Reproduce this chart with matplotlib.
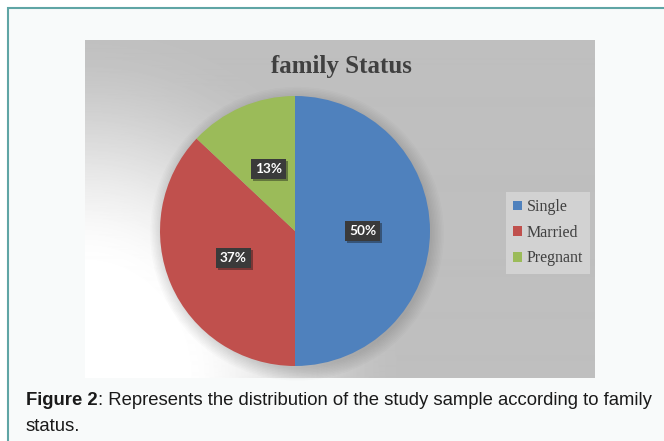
import numpy as np
import matplotlib
matplotlib.use("Agg")
import matplotlib.pyplot as plt
from matplotlib.patches import Rectangle, Circle
import matplotlib.patheffects as pe

# data
categories = ["Single", "Married", "Pregnant"]
shares = [50, 37, 13]
colors = ["#4f81bd", "#c0504d", "#9bbb59"]
chart_title = "family Status"
caption_bold = "Figure 2"
caption_rest = ": Represents the distribution of the study sample according to family"
caption_line2 = "status."

W, H = 664, 441


def fx(x):
    return x / W


def fy(y):
    return 1 - y / H


fig = plt.figure(figsize=(W / 100, H / 100), dpi=100, facecolor="white")

# page panel with teal border on left / top
fig.patches.append(Rectangle((fx(8), fy(500)), fx(700), (500 - 8) / H,
                             transform=fig.transFigure, facecolor="#f8fafa",
                             edgecolor="#5fa5a5", linewidth=1.5, zorder=-10))

# grey chart area with light corner at bottom-left
x0, y0, x1, y1 = 85, 40, 595, 378
bg = fig.add_axes([fx(x0), fy(y1), (x1 - x0) / W, (y1 - y0) / H])
xx, yy = np.meshgrid(np.arange(x1 - x0), np.arange(y1 - y0))
d = np.hypot(xx - 0, (yy - (y1 - y0)) * 0.9)
t = np.clip((d - 90) / 230, 0, 1)
t = t * t * (3 - 2 * t)
grey = 255 - (255 - 191) * t
bg.imshow(grey, cmap="gray", vmin=0, vmax=255, aspect="auto",
          extent=(0, 1, 0, 1), interpolation="bilinear")
bg.set_axis_off()

# pie
cx, cy, r = 295, 231, 135
half = 150
ax = fig.add_axes([fx(cx - half), fy(cy + half), 2 * half / W, 2 * half / H])
for i in range(9):
    ax.add_patch(Circle((0.015, -0.02), 1 + 0.011 * i, color="black",
                        alpha=0.016, lw=0, zorder=0, clip_on=False))
wedges, texts, autotexts = ax.pie(
    shares, colors=colors, startangle=90, counterclock=False,
    autopct="%d%%", pctdistance=0.5, radius=1,
    wedgeprops=dict(linewidth=0),
    textprops=dict(color="white", fontsize=9.8, fontweight="bold",
                   family="Lato"))
for w in wedges:
    w.set_zorder(2)
for at in autotexts:
    at.set_zorder(3)
    at.set_bbox(dict(boxstyle="square,pad=0.3", facecolor="#3a3a3a",
                     edgecolor="none"))
    at.get_bbox_patch().set_path_effects(
        [pe.SimplePatchShadow(offset=(1.5, -1.5), alpha=0.4), pe.Normal()])
ax.set_xlim(-half / r, half / r)
ax.set_ylim(-half / r, half / r)
ax.set_axis_off()

fig.text(fx(341), fy(73), chart_title, ha="center", va="baseline",
         fontsize=18, fontweight="bold", family="Liberation Serif",
         color="#404040")

leg = fig.legend(wedges, categories, loc="upper left",
                 bbox_to_anchor=(fx(506), fy(192)), frameon=True,
                 fancybox=False, facecolor="#d2d2d2", edgecolor="none",
                 framealpha=1, handlelength=0.55, handleheight=0.55,
                 handletextpad=0.3, labelspacing=0.6, borderpad=0.45,
                 borderaxespad=0,
                 prop=dict(family="Liberation Serif", size=11.5))
for txt in leg.get_texts():
    txt.set_color("#404040")

# caption, bold part then the rest
fig.canvas.draw()
renderer = fig.canvas.get_renderer()
t1 = fig.text(fx(26), fy(405), caption_bold, ha="left", va="baseline",
              fontsize=13.3, fontweight="bold", family="Liberation Sans",
              color="#1a1a1a")
bb = t1.get_window_extent(renderer)
fig.text(bb.x1 / W, fy(405), caption_rest, ha="left", va="baseline",
         fontsize=13.3, family="Liberation Sans", color="#1a1a1a")
fig.text(fx(26), fy(431), caption_line2, ha="left", va="baseline",
         fontsize=13.3, family="Liberation Sans", color="#1a1a1a")

fig.savefig("out.png", dpi=100, facecolor="white")
